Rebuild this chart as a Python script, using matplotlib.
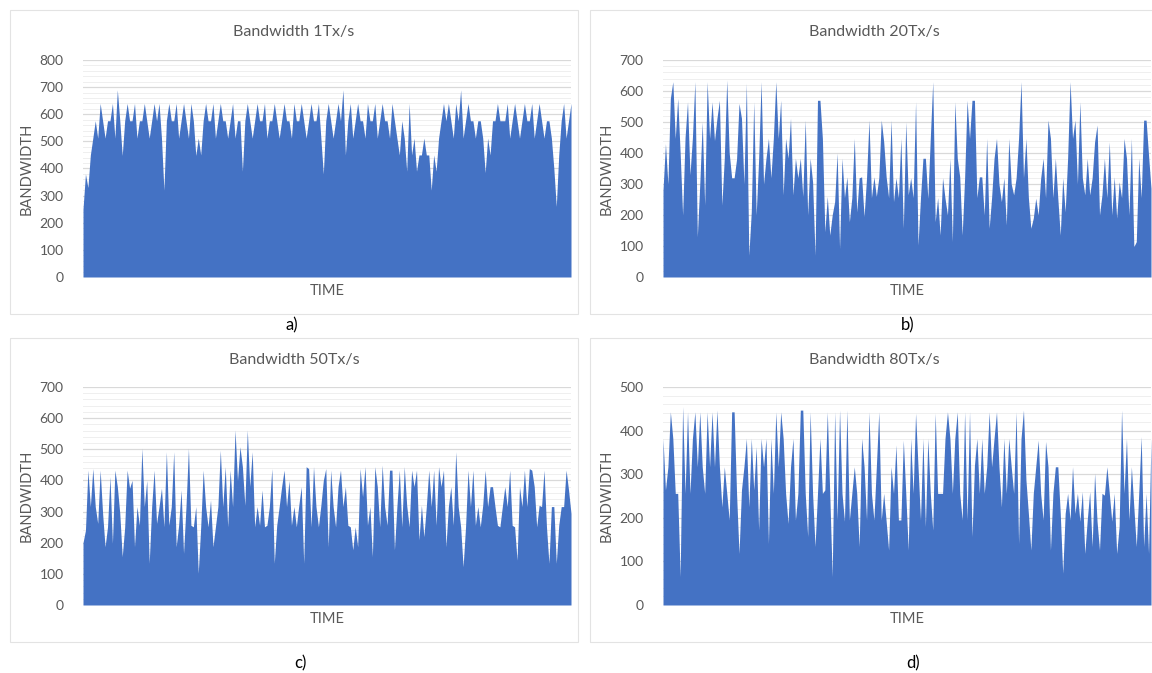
import matplotlib
matplotlib.use("Agg")
import matplotlib.pyplot as plt
from matplotlib.patches import Rectangle
from matplotlib.ticker import MultipleLocator

plt.rcParams['font.family'] = ['Lato', 'DejaVu Sans']

# values, left to right
bw_1 = [250, 380, 330, 450, 512, 576, 512, 640, 576, 512, 576, 576, 640, 512, 690, 576, 448, 576, 640, 576,
        576, 640, 512, 576, 576, 640, 576, 512, 576, 640, 576, 640, 512, 320, 576, 640, 576, 576, 640, 512,
        576, 640, 576, 512, 640, 576, 448, 512, 450, 576, 640, 576, 576, 640, 512, 576, 640, 576, 576, 512,
        576, 640, 512, 576, 576, 390, 576, 640, 576, 512, 576, 640, 576, 576, 640, 512, 576, 576, 640, 576,
        512, 576, 640, 576, 576, 512, 640, 576, 576, 640, 576, 512, 576, 640, 576, 576, 640, 512, 380, 576,
        640, 576, 512, 576, 640, 576, 690, 450, 576, 640, 512, 576, 640, 576, 576, 512, 640, 576, 576, 640,
        512, 576, 640, 576, 576, 512, 640, 576, 512, 450, 576, 512, 390, 640, 450, 512, 390, 450, 450, 512,
        450, 450, 320, 450, 390, 512, 576, 640, 576, 640, 576, 512, 640, 576, 690, 512, 576, 640, 576, 576,
        512, 576, 576, 512, 385, 512, 450, 576, 576, 640, 576, 576, 576, 640, 512, 576, 640, 576, 512, 576,
        640, 576, 576, 640, 512, 576, 640, 576, 512, 576, 576, 512, 400, 260, 450, 576, 640, 512, 576, 640]

bw_20 = [280, 430, 300, 576, 630, 447, 576, 400, 200, 450, 565, 330, 450, 630, 130, 300, 500, 232, 630, 447,
         565, 440, 512, 570, 232, 383, 635, 400, 320, 320, 380, 560, 512, 300, 625, 70, 210, 565, 200, 380,
         630, 300, 383, 447, 320, 447, 630, 447, 570, 265, 447, 383, 512, 265, 383, 320, 383, 260, 506, 200,
         383, 307, 70, 570, 570, 447, 146, 260, 135, 200, 243, 400, 92, 383, 256, 323, 178, 256, 447, 210,
         320, 323, 195, 320, 506, 256, 323, 260, 320, 506, 436, 323, 256, 506, 243, 320, 256, 447, 157, 500,
         265, 320, 256, 565, 103, 256, 383, 383, 254, 447, 630, 178, 256, 135, 320, 254, 200, 383, 114, 565,
         383, 323, 135, 320, 570, 447, 570, 570, 256, 323, 323, 200, 447, 157, 256, 383, 447, 300, 243, 320,
         168, 447, 300, 265, 320, 447, 630, 320, 447, 256, 157, 190, 254, 200, 318, 383, 256, 506, 447, 256,
         383, 254, 135, 320, 210, 383, 630, 447, 506, 300, 565, 320, 265, 383, 265, 320, 436, 490, 200, 265,
         383, 256, 436, 200, 323, 190, 307, 256, 447, 383, 200, 447, 98, 114, 383, 256, 506, 506, 393, 286]

bw_50 = [200, 240, 433, 316, 438, 316, 262, 433, 294, 187, 251, 412, 198, 433, 380, 294, 155, 250, 433, 375,
         400, 187, 316, 256, 503, 316, 400, 134, 316, 433, 262, 316, 375, 251, 492, 256, 316, 492, 187, 256,
         369, 166, 316, 503, 256, 251, 316, 102, 251, 433, 316, 251, 337, 187, 251, 316, 497, 316, 444, 251,
         433, 316, 562, 400, 508, 444, 320, 562, 380, 492, 251, 316, 256, 369, 251, 256, 316, 438, 134, 256,
         316, 380, 433, 316, 400, 256, 316, 251, 320, 380, 134, 444, 438, 251, 444, 316, 251, 320, 400, 438,
         187, 433, 316, 251, 380, 433, 316, 380, 256, 251, 177, 251, 187, 438, 348, 444, 256, 316, 155, 444,
         380, 251, 449, 316, 256, 433, 433, 177, 316, 433, 251, 444, 320, 251, 433, 380, 433, 209, 320, 219,
         316, 433, 316, 433, 256, 444, 380, 433, 187, 316, 380, 256, 492, 316, 251, 123, 251, 433, 316, 433,
         256, 316, 251, 320, 433, 316, 380, 380, 316, 256, 251, 316, 380, 316, 433, 256, 251, 144, 380, 316,
         433, 316, 438, 433, 380, 251, 320, 316, 433, 251, 134, 316, 316, 134, 256, 316, 316, 433, 369, 294]

bw_80 = [382, 264, 317, 443, 382, 256, 256, 65, 455, 256, 443, 256, 382, 443, 317, 443, 317, 256, 443, 317,
         443, 317, 447, 317, 225, 317, 256, 195, 443, 443, 256, 118, 264, 317, 382, 225, 382, 264, 363, 172,
         382, 317, 382, 141, 382, 256, 443, 317, 443, 382, 256, 187, 317, 382, 195, 256, 447, 447, 256, 157,
         443, 256, 134, 256, 382, 256, 264, 443, 256, 65, 443, 195, 447, 256, 192, 447, 195, 256, 317, 256,
         134, 382, 317, 195, 443, 256, 195, 317, 443, 195, 256, 192, 126, 317, 256, 367, 195, 195, 378, 256,
         126, 382, 256, 440, 317, 195, 382, 180, 382, 256, 172, 440, 256, 256, 256, 382, 443, 382, 256, 382,
         443, 256, 195, 443, 195, 443, 157, 320, 382, 256, 382, 256, 317, 443, 317, 382, 443, 317, 225, 382,
         256, 382, 317, 256, 443, 141, 382, 447, 287, 210, 126, 256, 317, 378, 256, 195, 375, 317, 126, 256,
         317, 317, 210, 73, 210, 256, 195, 317, 210, 256, 192, 260, 118, 195, 260, 134, 302, 192, 126, 256,
         252, 317, 256, 192, 256, 118, 180, 447, 256, 382, 195, 317, 225, 134, 256, 386, 134, 256, 118, 382]

titles = ["Bandwidth 1Tx/s", "Bandwidth 20Tx/s", "Bandwidth 50Tx/s", "Bandwidth 80Tx/s"]
letters = ["a)", "b)", "c)", "d)"]
ymaxes = [800, 700, 700, 500]
series = [bw_1, bw_20, bw_50, bw_80]

W, H = 1152, 673
fig = plt.figure(figsize=(W / 100, H / 100), dpi=100)

# pixel layout: (box left, box top, plot left, plot top, plot bottom, letter x, letter y)
layout = [
    (10, 10, 83, 60, 277, 292, 325),
    (590, 10, 663, 60, 277, 908, 325),
    (10, 338, 83, 387, 605, 300, 663),
    (590, 338, 663, 387, 605, 913, 663),
]

for vals, title, letter, ymax, (bx, by, px, pt, pb, lx, ly) in zip(series, titles, letters, ymaxes, layout):
    fig.patches.append(Rectangle((bx / W, 1 - (by + 304) / H), 568 / W, 304 / H,
                                 transform=fig.transFigure, fill=False,
                                 edgecolor='#e3e3e3', lw=0.8))
    ax = fig.add_axes([px / W, 1 - pb / H, 488 / W, (pb - pt) / H])
    x = list(range(len(vals)))
    ax.fill_between(x, vals, 0, color='#4472C4', lw=0)
    ax.set_xlim(0, len(vals) - 1)
    ax.set_ylim(0, ymax)
    ax.yaxis.set_major_locator(MultipleLocator(100))
    ax.yaxis.set_minor_locator(MultipleLocator(20))
    ax.grid(which='major', axis='y', color='#d9d9d9', lw=0.9)
    ax.grid(which='minor', axis='y', color='#efefef', lw=0.7)
    ax.set_axisbelow(True)
    for s in ax.spines.values():
        s.set_visible(False)
    ax.set_xticks([])
    ax.tick_params(axis='y', which='both', length=0, pad=14, labelsize=10, labelcolor='#595959')
    ax.set_ylabel("BANDWIDTH", fontsize=10.5, color='#595959', labelpad=4)
    ax.set_xlabel("TIME", fontsize=10.5, color='#595959', labelpad=5)
    fig.text((bx + 284) / W, 1 - (by + 22) / H, title, ha='center', va='center',
             fontsize=11.5, color='#595959')
    fig.text(lx / W, 1 - ly / H, letter, ha='center', va='center', fontsize=12, color='black')

fig.savefig("out.png", dpi=100, facecolor='white')
